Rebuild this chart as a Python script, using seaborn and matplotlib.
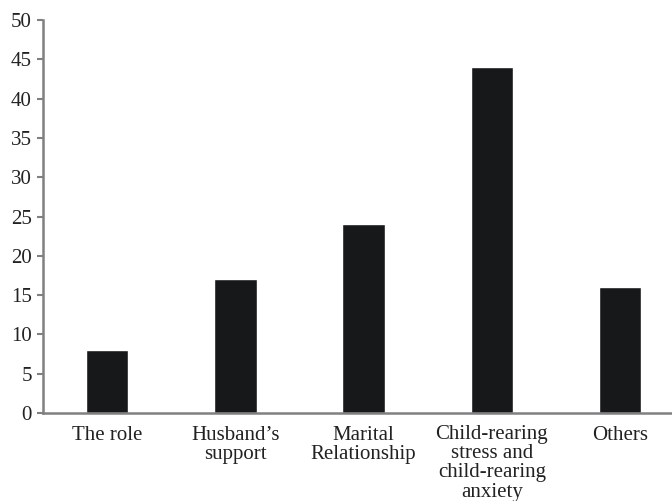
import matplotlib.pyplot as plt
import pandas as pd
import seaborn as sns

# Data
categories = ['The role', 'Husband\u2019s\nsupport', 'Marital\nRelationship',
              'Child-rearing\nstress and\nchild-rearing\nanxiety', 'Others']
values = [8, 17, 24, 44, 16]
y_ticks = list(range(0, 51, 5))

df = pd.DataFrame({'factor': categories, 'value': values})

sns.set_style('ticks')
plt.rcParams['font.family'] = ['Liberation Serif', 'DejaVu Serif']

fig = plt.figure(figsize=(6.72, 5.01), dpi=100)
ax = fig.add_axes([43 / 672, 88 / 501, 629 / 672, 393 / 501])

sns.barplot(data=df, x='factor', y='value', color='#17181a', width=0.33,
            saturation=1, ax=ax)

ax.set_xlim(-0.5, 4.405)
ax.set_ylim(0, 50)
ax.set_yticks(y_ticks)
ax.set_xlabel('')
ax.set_ylabel('')

for side in ['top', 'right']:
    ax.spines[side].set_visible(False)
for side in ['left', 'bottom']:
    ax.spines[side].set_color('#808080')
    ax.spines[side].set_linewidth(1.8)

ax.tick_params(axis='y', length=4, width=1.5, color='#808080',
               labelsize=15, labelcolor='#222222', pad=4)
ax.tick_params(axis='x', length=0, labelsize=15, labelcolor='#222222', pad=9)
for lbl in ax.get_xticklabels():
    lbl.set_linespacing(1.0)

fig.savefig('out.png', dpi=100)
